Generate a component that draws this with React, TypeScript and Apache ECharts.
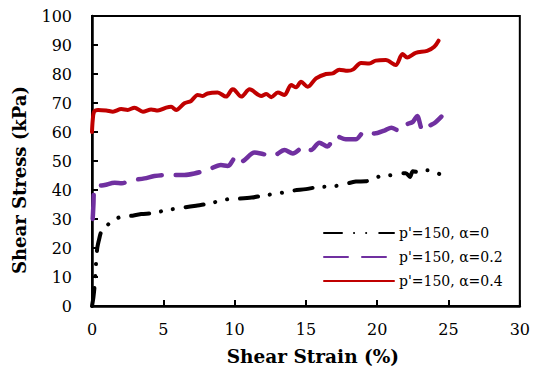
import React, { useEffect, useRef } from "react";
import * as echarts from "echarts";

const xTicks = [0, 5, 10, 15, 20, 25, 30];
const yTicks = [0, 10, 20, 30, 40, 50, 60, 70, 80, 90, 100];

const seriesNames = ["p'=150, α=0", "p'=150, α=0.2", "p'=150, α=0.4"];

const blackX = [0, 0.1, 0.2, 0.25, 0.3, 0.37, 0.5, 0.65, 1.0, 1.4, 1.94, 2.63, 3.45, 4.27, 5.0, 5.66, 6.48, 7.3, 8.1, 9.5, 10.2, 11.2, 11.9, 13.4, 14.1, 15.0, 15.7, 17.1, 17.8, 18.5, 19.2, 20.1, 20.8, 21.5, 22.0, 22.3, 22.5, 23.0, 23.5, 24.0, 24.4, 24.6];
const blackY = [0, 3, 8, 12, 16, 20, 23, 25.6, 27.5, 29.2, 30.6, 31.0, 31.7, 32.0, 32.8, 33.4, 34.0, 34.6, 35.2, 36.8, 37.0, 37.4, 38.0, 39.1, 39.8, 40.3, 40.9, 41.4, 42.1, 42.9, 43.0, 44.6, 45.0, 45.5, 45.8, 44.5, 46.5, 46.0, 46.8, 46.5, 45.5, 47.6];

const purpleX = [0.05, 0.1, 0.15, 0.3, 0.89, 1.59, 2.1, 2.63, 3.68, 4.38, 5.31, 6.48, 7.18, 8.11, 9.04, 9.51, 9.65, 9.98, 10.2, 10.47, 11.4, 11.98, 12.68, 13.5, 14.08, 14.9, 15.36, 15.94, 16.5, 17.1, 17.8, 18.5, 19.1, 19.8, 20.5, 21.0, 21.5, 22.0, 22.5, 22.8, 23.2, 23.6, 24.0, 24.5];
const purpleY = [30, 35, 40, 41.2, 41.7, 42.5, 42.3, 43.2, 44.0, 44.8, 45.2, 45.2, 45.7, 46.9, 48.6, 48.3, 48.6, 51.0, 51.5, 49.8, 52.9, 52.4, 51.7, 53.8, 52.6, 55.0, 53.8, 56.3, 55.0, 58.6, 57.5, 57.5, 60.1, 59.5, 60.5, 61.5, 60.5, 62.5, 63.5, 65.5, 60.5, 62.0, 63.0, 65.3];

const redX = [0, 0.05, 0.15, 0.42, 1.0, 1.47, 2.05, 2.5, 2.98, 3.57, 4.15, 4.62, 5.2, 5.55, 5.9, 6.48, 6.95, 7.41, 7.76, 8.11, 8.81, 9.4, 9.86, 10.0, 10.47, 11.05, 11.87, 12.22, 12.57, 13.03, 13.5, 13.96, 14.31, 14.66, 15.13, 15.71, 16.41, 16.88, 17.34, 17.93, 18.32, 18.86, 19.44, 19.9, 20.6, 21.3, 21.77, 22.1, 22.7, 23.5, 24.0, 24.3];
const redY = [60, 64, 67, 67.6, 67.4, 67.0, 67.9, 67.6, 68.4, 67.0, 67.8, 67.4, 68.4, 68.7, 67.6, 69.9, 70.7, 72.8, 72.4, 73.3, 73.6, 72.2, 74.7, 74.5, 72.2, 74.7, 72.4, 73.1, 72.0, 73.6, 72.8, 76.2, 75.4, 77.3, 75.6, 78.5, 80.0, 80.2, 81.5, 81.1, 81.6, 83.8, 83.6, 84.6, 84.8, 83.1, 86.9, 85.7, 87.3, 88.0, 89.4, 91.5];

const zip = (xs: number[], ys: number[]) => xs.map((x, i) => [x, ys[i]]);

const FONT = "DejaVu Serif";

export default function App() {
  const ref = useRef<HTMLDivElement>(null);
  useEffect(() => {
    if (!ref.current) return;
    const chart = echarts.init(ref.current, null, { renderer: "svg" });
    chart.setOption({
      animation: false,
      backgroundColor: "#ffffff",
      textStyle: { fontFamily: FONT },
      grid: {
        left: 92,
        right: 12,
        top: 16,
        bottom: 70,
        show: true,
        borderColor: "#000",
        borderWidth: 2,
      },
      legend: {
        orient: "vertical",
        left: 318,
        top: 221,
        itemWidth: 70,
        itemHeight: 14,
        itemGap: 10,
        data: seriesNames,
        itemStyle: { opacity: 0 },
        textStyle: { fontFamily: FONT, fontSize: 14, color: "#000", lineHeight: 14 },
      },
      xAxis: {
        type: "value",
        min: xTicks[0],
        max: xTicks[xTicks.length - 1],
        interval: 5,
        name: "Shear Strain (%)",
        nameLocation: "middle",
        nameGap: 41,
        nameTextStyle: { fontFamily: FONT, fontSize: 18.5, fontWeight: "bold", color: "#000", padding: [0, 0, 0, 14] },
        axisLine: { lineStyle: { color: "#000", width: 2.5 } },
        axisTick: { inside: true, length: 6, lineStyle: { color: "#000", width: 2 } },
        axisLabel: { fontFamily: FONT, fontSize: 16, color: "#000", margin: 15 },
        splitLine: { show: false },
      },
      yAxis: {
        type: "value",
        min: yTicks[0],
        max: yTicks[yTicks.length - 1],
        interval: 10,
        name: "Shear Stress (kPa)",
        nameLocation: "middle",
        nameGap: 64,
        nameTextStyle: { fontFamily: FONT, fontSize: 18, fontWeight: "bold", color: "#000", padding: [0, 38, 0, 0] },
        axisLine: { lineStyle: { color: "#000", width: 2.5 } },
        axisTick: { inside: true, length: 6, lineStyle: { color: "#000", width: 2 } },
        axisLabel: { fontFamily: FONT, fontSize: 16, color: "#000", margin: 20 },
        splitLine: { show: false },
      },
      series: [
        {
          name: seriesNames[0],
          type: "line",
          data: zip(blackX, blackY),
          showSymbol: false,
          symbol: "none",
          smooth: 0.3,
          color: "#000000",
          lineStyle: { color: "#000000", width: 4, type: [18, 12, 0.1, 12, 0.1, 13], cap: "round" },
        },
        {
          name: seriesNames[1],
          type: "line",
          data: zip(purpleX, purpleY),
          showSymbol: false,
          symbol: "none",
          smooth: 0.3,
          color: "#7030A0",
          lineStyle: { color: "#7030A0", width: 4.5, type: [24, 14], cap: "round" },
        },
        {
          name: seriesNames[2],
          type: "line",
          data: zip(redX, redY),
          showSymbol: false,
          symbol: "none",
          smooth: 0.3,
          color: "#C00000",
          lineStyle: { color: "#C00000", width: 4, cap: "round" },
        },
      ],
    });
    return () => chart.dispose();
  }, []);
  return <div ref={ref} style={{ position: "fixed", left: 0, top: 0, width: 533, height: 376 }} />;
}
